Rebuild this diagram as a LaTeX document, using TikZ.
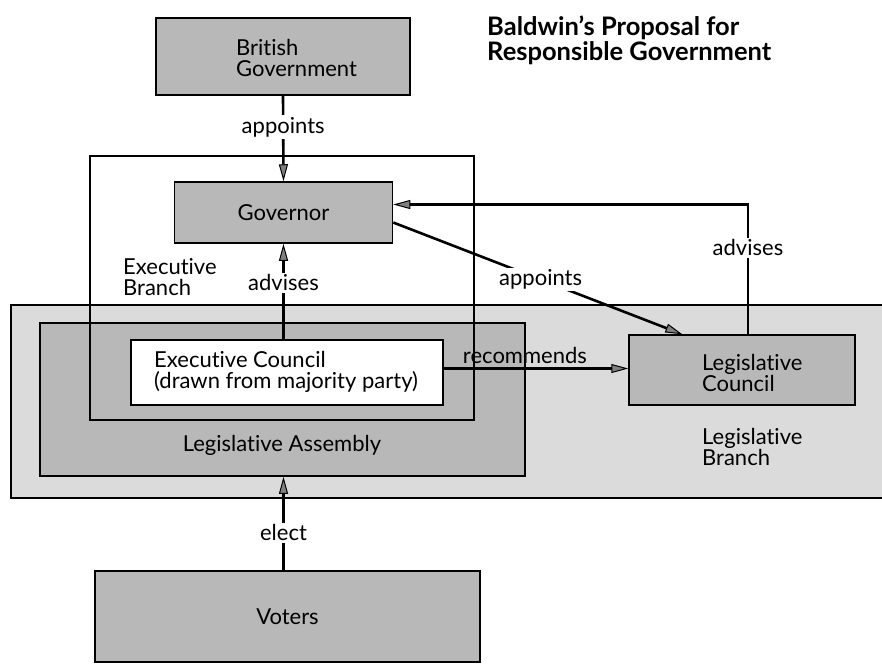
\documentclass[tikz,border=0pt]{standalone}
\usepackage{fontspec}
\setmainfont{Lato}[Ligatures=NoCommon]
\usetikzlibrary{arrows.meta}
\definecolor{boxgray}{gray}{0.72}
\definecolor{bandgray}{gray}{0.86}
\definecolor{tipgray}{gray}{0.5}
\begin{document}
\begin{tikzpicture}[x=1pt,y=-1pt,
  box/.style={draw=black, line width=1.5pt, fill=boxgray, inner sep=0pt,
              font=\fontsize{22}{22}\selectfont},
  outline/.style={draw=black, line width=1.2pt, inner sep=0pt},
  txt/.style={font=\fontsize{22}{21}\selectfont, inner sep=0pt, align=left},
  lab/.style={font=\fontsize{22}{21}\selectfont, inner sep=2pt, fill=white},
  conn/.style={line width=2.6pt,
    -{Triangle[length=17pt,width=9pt,fill=tipgray,line width=1pt]}},
]
\useasboundingbox (0,0) rectangle (882,667);
\clip (0,0) rectangle (882,667);

% title
\node[txt, anchor=west, font=\fontsize{25.5}{25}\selectfont\bfseries] (title) at (487,40.5)
  {Baldwin’s Proposal for\\Responsible Government};

% legislative branch band
\node[outline, fill=bandgray, minimum width=879, minimum height=193] (band) at (450.5,401.5) {};
% legislative assembly
\node[box, minimum width=485, minimum height=153] (asm) at (282.5,399.5) {};
% executive branch outline
\node[outline, minimum width=384, minimum height=264] (exb) at (282,288) {};
% executive council
\node[box, fill=white, minimum width=312, minimum height=65] (exc) at (287,372.5) {};

% boxes
\node[box, minimum width=254, minimum height=77] (brit) at (283,56.5) {};
\node[box, minimum width=218, minimum height=61] (gov) at (283.5,212.5) {Governor};
\node[box, minimum width=226, minimum height=70] (lc) at (742,370) {};
\node[box, minimum width=385, minimum height=91] (vot) at (287.5,616.5) {Voters};

% texts
\node[txt, anchor=west] (britT) at (236,58) {British\\Government};
\node[txt, anchor=west] (exbT) at (123,277) {Executive\\Branch};
\node[txt, anchor=west] (excT) at (154,371.5) {Executive Council\\(drawn from majority party)};
\node[txt] (asmT) at (282,445) {Legislative Assembly};
\node[txt, anchor=west] (lcT) at (702,373) {Legislative\\Council};
\node[txt, anchor=west] (lbT) at (702,447) {Legislative\\Branch};

% connectors
\draw[conn] (brit.south) -- node[lab,pos=0.37]{appoints} (gov.north);
\draw[conn] (exc.north -| gov.south) -- node[lab,pos=0.59]{advises} (gov.south);
\draw[conn] (vot.north -| gov.south) -- node[lab,pos=0.4]{elect} (asm.south -| gov.south);
\draw[conn] ([yshift=4pt]exc.east) -- node[pos=0.44, above=4pt, txt]{recommends} ([yshift=4pt]exc.east -| lc.west);
\draw[conn] ([xshift=6pt]lc.north) |- node[lab,pos=0.333]{advises} ([yshift=8pt]gov.east);
\draw[conn] ([yshift=-10pt]gov.east) -- node[lab,pos=0.51]{appoints} ([xshift=54pt]lc.north west);
\end{tikzpicture}
\end{document}
